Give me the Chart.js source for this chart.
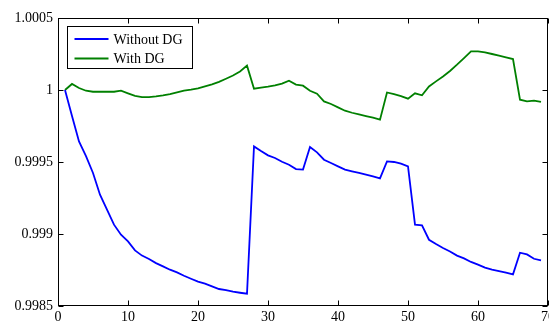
<!DOCTYPE html>
<html>
<head>
<meta charset="utf-8">
<script src="https://cdn.jsdelivr.net/npm/chart.js@4"></script>
<style>
  html, body { margin: 0; padding: 0; background: #fff; }
  #wrap { width: 549px; height: 323px; }
  #fontprobe { position: absolute; left: -999px; top: 0; font: 14px "Liberation Serif"; }
</style>
</head>
<body>
<div id="fontprobe">Without DG 0.9985</div>
<div id="wrap"><canvas id="grafico" width="549" height="323"></canvas></div>
<script>
// ─── DATA ────────────────────────────────────────────────────────────────────
const busNumbers = [
   1,  2,  3,  4,  5,  6,  7,  8,  9, 10, 11, 12, 13, 14, 15, 16, 17, 18, 19, 20,
  21, 22, 23, 24, 25, 26, 27, 28, 29, 30, 31, 32, 33, 34, 35, 36, 37, 38, 39, 40,
  41, 42, 43, 44, 45, 46, 47, 48, 49, 50, 51, 52, 53, 54, 55, 56, 57, 58, 59, 60,
  61, 62, 63, 64, 65, 66, 67, 68, 69
];

const withoutDG = [
  1.000000, 0.999820, 0.999643, 0.999540, 0.999424, 0.999273, 0.999169, 0.999065, 0.998995, 0.998949,
  0.998886, 0.998850, 0.998826, 0.998798, 0.998775, 0.998752, 0.998733, 0.998710, 0.998689, 0.998669,
  0.998655, 0.998636, 0.998618, 0.998611, 0.998600, 0.998592, 0.998585, 0.999608, 0.999576, 0.999546,
  0.999528, 0.999502, 0.999481, 0.999451, 0.999447, 0.999604, 0.999567, 0.999516, 0.999493, 0.999470,
  0.999447, 0.999435, 0.999424, 0.999412, 0.999400, 0.999386, 0.999504, 0.999500, 0.999488, 0.999470,
  0.999065, 0.999060, 0.998960, 0.998930, 0.998903, 0.998879, 0.998850, 0.998831, 0.998806, 0.998787,
  0.998766, 0.998752, 0.998743, 0.998731, 0.998720, 0.998870, 0.998858, 0.998828, 0.998817
];

const withDG = [
  1.000000, 1.000042, 1.000014, 0.999995, 0.999988, 0.999988, 0.999988, 0.999988, 0.999995, 0.999977,
  0.999960, 0.999951, 0.999951, 0.999956, 0.999963, 0.999972, 0.999983, 0.999995, 1.000002, 1.000011,
  1.000025, 1.000039, 1.000056, 1.000078, 1.000101, 1.000129, 1.000169, 1.000009, 1.000016, 1.000023,
  1.000032, 1.000044, 1.000065, 1.000038, 1.000030, 0.999995, 0.999974, 0.999921, 0.999903, 0.999879,
  0.999856, 0.999842, 0.999830, 0.999819, 0.999808, 0.999794, 0.999983, 0.999972, 0.999958, 0.999940,
  0.999977, 0.999963, 1.000025, 1.000060, 1.000094, 1.000132, 1.000176, 1.000222, 1.000268, 1.000268,
  1.000261, 1.000250, 1.000238, 1.000226, 1.000215, 0.999933, 0.999921, 0.999926, 0.999917
];

const seriesLabels = ["Without DG", "With DG"];
const seriesColors = ["#0000ff", "#008000"];

const FONT = "'Liberation Serif', 'Times New Roman', 'DejaVu Serif', serif";

// ─── PLUGIN: caixa, ticks para dentro e legenda ───────────────────────────────
const matlabFrame = {
  id: "matlabFrame",
  afterDraw(chart){
    const { ctx, chartArea: a, scales: { x, y } } = chart;
    const L = Math.round(a.left) + 0.5, R = Math.round(a.right) - 0.5;
    const T = Math.round(a.top) + 0.5,  B = Math.round(a.bottom) - 0.5;
    const tl = 5;

    ctx.save();
    ctx.strokeStyle = "#000";
    ctx.lineWidth = 1;
    ctx.strokeRect(L, T, R - L, B - T);

    ctx.beginPath();
    x.ticks.forEach(t => {
      const px = Math.round(x.getPixelForValue(t.value)) + 0.5;
      ctx.moveTo(px, B); ctx.lineTo(px, B - tl);
      ctx.moveTo(px, T); ctx.lineTo(px, T + tl);
    });
    y.ticks.forEach(t => {
      const py = Math.round(y.getPixelForValue(t.value)) + 0.5;
      ctx.moveTo(L, py); ctx.lineTo(L + tl, py);
      ctx.moveTo(R, py); ctx.lineTo(R - tl, py);
    });
    ctx.stroke();

    // legenda
    const bx = L + 9, by = T + 8, bw = 125, bh = 42;
    ctx.fillStyle = "#fff";
    ctx.fillRect(bx, by, bw, bh);
    ctx.strokeRect(bx, by, bw, bh);
    ctx.font = "14px " + FONT;
    ctx.textBaseline = "middle";
    chart.data.datasets.forEach((ds, i) => {
      const ly = by + 12.5 + i * 19.5;
      ctx.strokeStyle = ds.borderColor;
      ctx.lineWidth = 2;
      ctx.beginPath();
      ctx.moveTo(bx + 7, ly); ctx.lineTo(bx + 41, ly);
      ctx.stroke();
      ctx.fillStyle = "#000";
      ctx.fillText(ds.label, bx + 46, ly + 1);
    });
    ctx.restore();
  }
};

function renderGrafico(){
  const ctx = document.getElementById("grafico").getContext("2d");
  new Chart(ctx, {
    type: "line",
    data: {
      datasets: [withoutDG, withDG].map((serie, i) => ({
        label: seriesLabels[i],
        data: serie.map((v, k) => ({ x: busNumbers[k], y: v })),
        borderColor: seriesColors[i],
        backgroundColor: seriesColors[i],
        borderWidth: 1.8,
        pointRadius: 0,
        tension: 0,
        fill: false
      }))
    },
    options: {
      responsive: false,
      animation: false,
      layout: { padding: { top: 18, right: 1, bottom: 0, left: 0 }, autoPadding: false },
      plugins: { legend: { display: false }, tooltip: { enabled: false } },
      scales: {
        x: {
          type: "linear",
          min: 0, max: 70,
          grid: { display: false, drawTicks: false },
          border: { display: false },
          ticks: { stepSize: 10, color: "#000", padding: 3, maxRotation: 0, font: { family: FONT, size: 14 } },
          afterFit: s => { s.height = 17; s.paddingLeft = 0; s.paddingRight = 0; }
        },
        y: {
          min: 0.9985, max: 1.0005,
          grid: { display: false, drawTicks: false },
          border: { display: false },
          ticks: {
            stepSize: 0.0005, color: "#000", padding: 5,
            font: { family: FONT, size: 14 },
            callback: v => String(Number(v.toFixed(4)))
          },
          afterFit: s => { s.width = 58; s.paddingTop = 0; s.paddingBottom = 0; }
        }
      }
    },
    plugins: [matlabFrame]
  });
}

if(document.fonts && document.fonts.load){
  document.fonts.load("14px 'Liberation Serif'").then(renderGrafico, renderGrafico);
} else {
  renderGrafico();
}
</script>
</body>
</html>
